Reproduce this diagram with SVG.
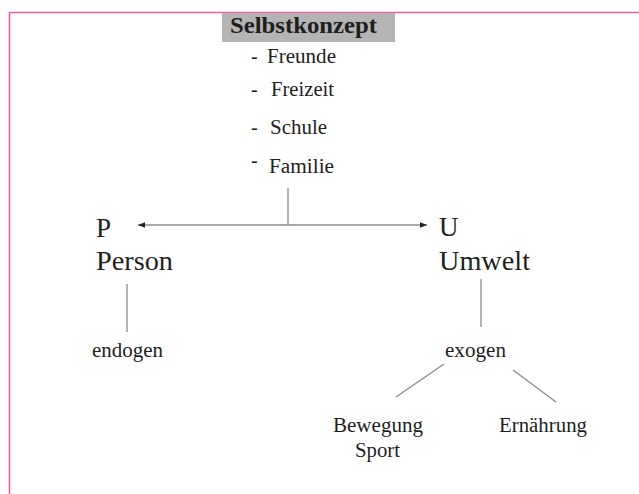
<svg xmlns="http://www.w3.org/2000/svg" width="639" height="494" viewBox="0 0 639 494">
<style>
text{font-family:"Liberation Serif","Times New Roman",serif;fill:#1e1e1e}
.t{font-size:20px}
.b{font-size:27px}
.c{stroke:#8a8a8a;stroke-width:1.3;fill:none}
.a{stroke:#555;stroke-width:1.2;fill:none}
</style>
<defs>
<marker id="ah" viewBox="0 0 10 10" refX="10" refY="5" markerWidth="7" markerHeight="7" orient="auto-start-reverse" markerUnits="userSpaceOnUse">
<path d="M0,1 L10,5 L0,9 Z" fill="#222"/>
</marker>
</defs>
<rect x="0" y="0" width="639" height="494" fill="#fff"/>
<path d="M9.5,494 V12.5 H639" stroke="#ec5fa8" stroke-width="1.6" fill="none"/>
<g id="connectors">
<line class="a" x1="138" y1="225" x2="427" y2="225" marker-start="url(#ah)" marker-end="url(#ah)"/>
<line class="c" x1="288" y1="188" x2="288" y2="225"/>
<line class="c" x1="127" y1="284" x2="127" y2="332"/>
<line class="c" x1="481" y1="279" x2="481" y2="327"/>
<line class="c" x1="444" y1="364" x2="396" y2="397"/>
<line class="c" x1="513" y1="370" x2="556" y2="402"/>
</g>
<g id="selbstkonzept">
<rect x="222" y="13" width="173" height="29" fill="#b4b4b4"/>
<text x="230" y="33" font-size="23" font-weight="bold" textLength="147" lengthAdjust="spacingAndGlyphs">Selbstkonzept</text>
<text class="t" x="251" y="63">-</text>
<text class="t" x="267" y="63" textLength="69" lengthAdjust="spacingAndGlyphs">Freunde</text>
<text class="t" x="251" y="96">-</text>
<text class="t" x="271" y="96" textLength="63" lengthAdjust="spacingAndGlyphs">Freizeit</text>
<text class="t" x="251" y="134">-</text>
<text class="t" x="270" y="134" textLength="57" lengthAdjust="spacingAndGlyphs">Schule</text>
<text class="t" x="251" y="167">-</text>
<text class="t" x="269" y="173" textLength="65" lengthAdjust="spacingAndGlyphs">Familie</text>
</g>
<g id="person">
<text class="b" x="96" y="237">P</text>
<text class="b" x="96" y="270" textLength="77" lengthAdjust="spacingAndGlyphs">Person</text>
</g>
<g id="umwelt">
<text class="b" x="439" y="236">U</text>
<text class="b" x="439" y="270" textLength="91" lengthAdjust="spacingAndGlyphs">Umwelt</text>
</g>
<g id="endogen">
<text class="t" x="92" y="357" textLength="71" lengthAdjust="spacingAndGlyphs">endogen</text>
</g>
<g id="exogen">
<text class="t" x="445" y="357" textLength="61" lengthAdjust="spacingAndGlyphs">exogen</text>
</g>
<g id="bewegung">
<text class="t" x="333" y="432" textLength="90" lengthAdjust="spacingAndGlyphs">Bewegung</text>
<text class="t" x="355" y="457" textLength="45" lengthAdjust="spacingAndGlyphs">Sport</text>
</g>
<g id="ernaehrung">
<text class="t" x="499" y="432" textLength="88" lengthAdjust="spacingAndGlyphs">Ernährung</text>
</g>
</svg>
